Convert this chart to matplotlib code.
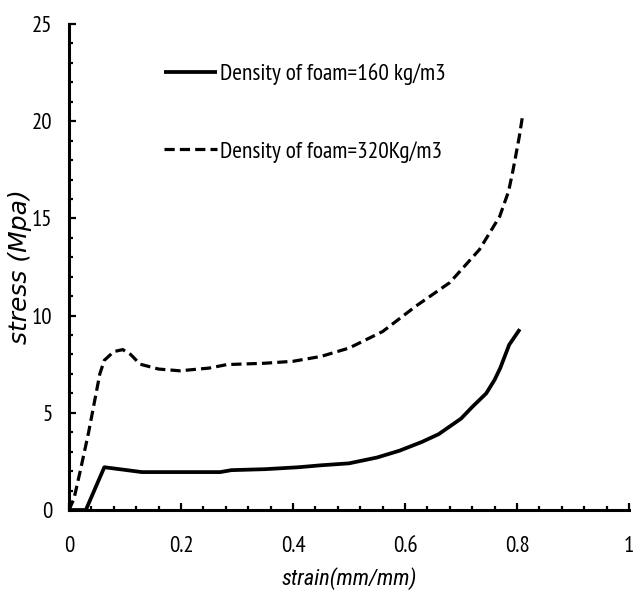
import matplotlib
matplotlib.use('Agg')
import matplotlib.pyplot as plt
from matplotlib.ticker import MultipleLocator

# stress-strain curves for the two foam densities
strain_160 = [0.0, 0.03, 0.063, 0.09, 0.13, 0.2, 0.27, 0.29, 0.35, 0.41, 0.45, 0.5,
              0.55, 0.59, 0.63, 0.66, 0.7, 0.72, 0.745, 0.76, 0.77, 0.786, 0.805]
stress_160 = [0.0, 0.0, 2.2, 2.1, 1.95, 1.95, 1.95, 2.05, 2.1, 2.2, 2.3, 2.4,
              2.7, 3.05, 3.5, 3.9, 4.7, 5.3, 6.0, 6.7, 7.3, 8.5, 9.3]

strain_320 = [0.0, 0.009, 0.02, 0.035, 0.045, 0.055, 0.063, 0.08, 0.096, 0.11, 0.127,
              0.16, 0.198, 0.25, 0.282, 0.35, 0.4, 0.45, 0.5, 0.56, 0.62, 0.68,
              0.733, 0.769, 0.785, 0.793, 0.804, 0.81]
stress_320 = [0.0, 0.6, 2.0, 4.0, 5.5, 7.0, 7.7, 8.15, 8.25, 8.0, 7.5,
              7.25, 7.16, 7.3, 7.48, 7.55, 7.65, 7.9, 8.33, 9.18, 10.5, 11.7,
              13.4, 15.1, 16.4, 17.5, 19.2, 20.3]

label_160 = 'Density of foam=160 kg/m3'
label_320 = 'Density of foam=320Kg/m3'

narrow = ['PT Sans Narrow', 'DejaVu Sans']
narrow_italic = ['Roboto Condensed', 'DejaVu Sans']

fig = plt.figure(figsize=(6.35, 5.9), dpi=100)
ax = fig.add_axes([0.1087, 0.1356, 0.8819, 0.8237])

ax.plot(strain_160, stress_160, color='black', lw=2.7, solid_capstyle='butt',
        label=label_160)
ax.plot(strain_320, stress_320, color='black', lw=2.3, dashes=(3.2, 1.6),
        label=label_320)

ax.set_xlim(0, 1)
ax.set_ylim(0, 25)
ax.xaxis.set_minor_locator(MultipleLocator(0.04))
ax.yaxis.set_major_locator(MultipleLocator(5))
ax.yaxis.set_minor_locator(MultipleLocator(1))
ax.set_xticks([0, 0.2, 0.4, 0.6, 0.8, 1.0], ['0', '0.2', '0.4', '0.6', '0.8', '1'])

for side in ('top', 'right'):
    ax.spines[side].set_visible(False)
for side in ('left', 'bottom'):
    ax.spines[side].set_linewidth(2.2)

ax.tick_params(axis='both', which='major', direction='in', length=5, width=1.6,
               labelsize=16.5)
ax.tick_params(axis='both', which='minor', direction='in', length=3, width=1.6)
ax.tick_params(axis='y', which='major', pad=12)
ax.tick_params(axis='x', which='major', pad=19)
for lab in ax.get_xticklabels() + ax.get_yticklabels():
    lab.set_family(narrow)

ax.set_xlabel('strain(mm/mm)', fontsize=16, style='italic', family=narrow_italic, va='top')
ax.xaxis.set_label_coords(0.5, -0.118)
ax.set_ylabel('stress (Mpa)', fontsize=18, style='italic', family='DejaVu Sans')
ax.yaxis.set_label_coords(-0.067, 0.5)

leg = ax.legend(loc='upper left', bbox_to_anchor=(0.17, 0.92), frameon=False,
                borderpad=0, borderaxespad=0, handlelength=2.25, handletextpad=0.14,
                labelspacing=2.4, prop={'family': narrow, 'size': 16.8})

fig.savefig('out.png', dpi=100)
